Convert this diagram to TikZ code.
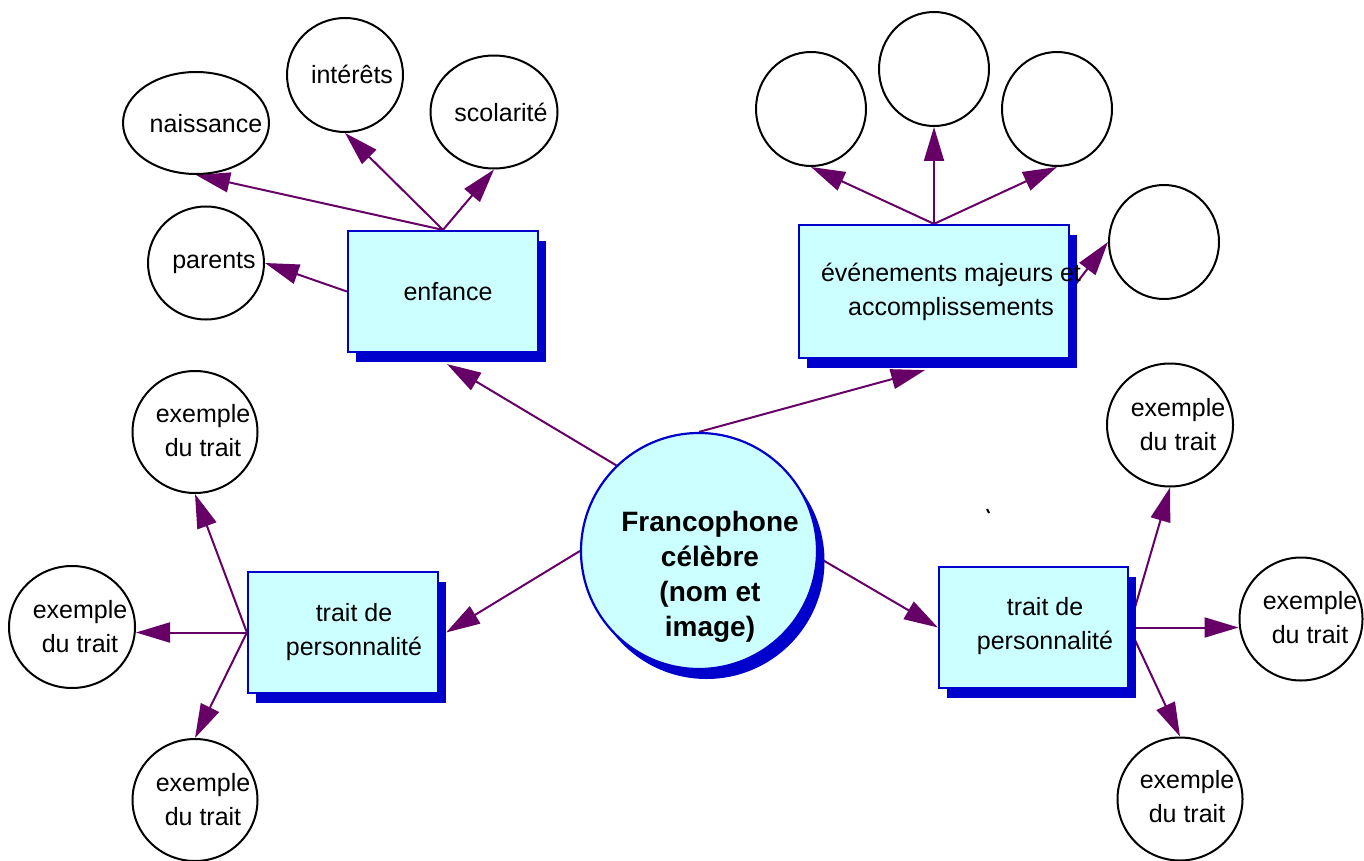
\documentclass[tikz,border=0pt]{standalone}
\usepackage{fontspec}
\setmainfont{Liberation Sans}
\usetikzlibrary{arrows.meta,shadows,backgrounds,shapes.geometric}

\definecolor{fondcyan}{HTML}{CCFFFF}
\definecolor{bleubord}{HTML}{0000CC}
\definecolor{lienviolet}{HTML}{660066}

\begin{document}
\begin{tikzpicture}[x=0.5pt, y=-0.5pt,
  ombre/.style={draw=bleubord, line width=1.1pt, fill=fondcyan,
    general shadow={fill=bleubord, shadow xshift=3.75pt, shadow yshift=-5pt}},
  boite/.style={ombre, rectangle, inner sep=0pt},
  bulle/.style={ellipse, draw, line width=1pt, inner sep=0pt},
  txt/.style={align=center, inner sep=0pt, font=\fontsize{12.5}{17}\selectfont},
  lien/.style={draw=lienviolet, line width=1pt, -{Triangle[length=17pt,width=10pt]}}]
  \useasboundingbox (0,0) rectangle (1364,861);

  % centre
  \node[ombre, circle, minimum size=118pt] (centre) at (699,551) {};
  \node[txt, font=\bfseries\fontsize{14}{17.5}\selectfont] (centre-t) at (710,577)
    {Francophone\\célèbre\\(nom et\\image)};

  % boites
  \node[boite, minimum width=95pt, minimum height=60.5pt] (enfance) at (443,291.5) {};
  \node[boite, minimum width=135pt, minimum height=66.5pt] (evenements) at (934,291.5) {};
  \node[boite, minimum width=95pt, minimum height=60.5pt] (traitG) at (343,632.5) {};
  \node[boite, minimum width=94.5pt, minimum height=60.5pt] (traitD) at (1033.5,627.5) {};
  \node[txt] (enfance-t) at (448,292) {enfance};
  \node[txt] (evenements-t) at (951,291.5) {événements majeurs et\\accomplissements};
  \node[txt] (traitG-t) at (354,632) {trait de\\personnalité};
  \node[txt] (traitD-t) at (1045,626) {trait de\\personnalité};

  % bulles de l'enfance
  \node[bulle, minimum width=73pt, minimum height=51pt] (naissance) at (196,123) {};
  \node[bulle, minimum width=58pt, minimum height=57pt] (interets) at (345,75) {};
  \node[bulle, minimum width=63.5pt, minimum height=56.5pt] (scolarite) at (494,112) {};
  \node[bulle, minimum width=58pt, minimum height=56.5pt] (parents) at (206,263) {};
  \node[txt] (naissance-t) at (206,124) {naissance};
  \node[txt] (interets-t) at (352,74) {intérêts};
  \node[txt] (scolarite-t) at (501,112) {scolarité};
  \node[txt] (parents-t) at (214,263) {parents};

  % bulles vides
  \node[bulle, minimum width=55pt, minimum height=57pt] (vide1) at (811,109) {};
  \node[bulle, minimum width=55pt, minimum height=57pt] (vide2) at (934,69) {};
  \node[bulle, minimum width=55pt, minimum height=57pt] (vide3) at (1057,109) {};
  \node[bulle, minimum width=55pt, minimum height=57pt] (vide4) at (1164,242) {};

  % exemples du trait
  \node[bulle, minimum width=62.5pt, minimum height=61pt] (exG1) at (195,432) {};
  \node[bulle, minimum width=63pt, minimum height=61pt] (exG2) at (72,627) {};
  \node[bulle, minimum width=62.5pt, minimum height=61pt] (exG3) at (195,800) {};
  \node[bulle, minimum width=63pt, minimum height=61.5pt] (exD1) at (1170,425) {};
  \node[bulle, minimum width=61.5pt, minimum height=61.5pt] (exD2) at (1301,619) {};
  \node[bulle, minimum width=62.5pt, minimum height=61.5pt] (exD3) at (1180,799) {};
  \node[txt] (exG1-t) at (203,431) {exemple\\du trait};
  \node[txt] (exG2-t) at (80,627) {exemple\\du trait};
  \node[txt] (exG3-t) at (203,800) {exemple\\du trait};
  \node[txt] (exD1-t) at (1178,425) {exemple\\du trait};
  \node[txt] (exD2-t) at (1310,618) {exemple\\du trait};
  \node[txt] (exD3-t) at (1187,797) {exemple\\du trait};

  \draw[line width=1pt] (987,509) -- (989,513);

  % liens
  \begin{scope}[on background layer]
    \draw[lien] (centre.134) -- ([shift={(4,11)}]enfance.south);
    \draw[lien] (centre.north) -- ([shift={(-9,11)}]evenements.south);
    \draw[lien] (centre.west) -- ([shift={(7,0)}]traitG.east);
    \draw[lien] (centre.-3) -- (traitD.west);
    \draw[lien] (enfance.west) -- (parents.east);
    \draw[lien] (enfance.north) -- (naissance.south);
    \draw[lien] (enfance.north) -- (interets.south);
    \draw[lien] (enfance.north) -- (scolarite.south);
    \draw[lien] (evenements.north) -- (vide1.south);
    \draw[lien] (evenements.north) -- (vide2.south);
    \draw[lien] (evenements.north) -- (vide3.south);
    \draw[lien] (evenements.east) -- (vide4.west);
    \draw[lien] (traitG.west) -- (exG1.south);
    \draw[lien] (traitG.west) -- (traitG.west -| exG2.east);
    \draw[lien] (traitG.west) -- (exG3.north);
    \draw[lien] (traitD.east) -- (exD1.south);
    \draw[lien] (traitD.east) -- (traitD.east -| exD2.west);
    \draw[lien] (traitD.east) -- (exD3.north);
  \end{scope}
\end{tikzpicture}
\end{document}
